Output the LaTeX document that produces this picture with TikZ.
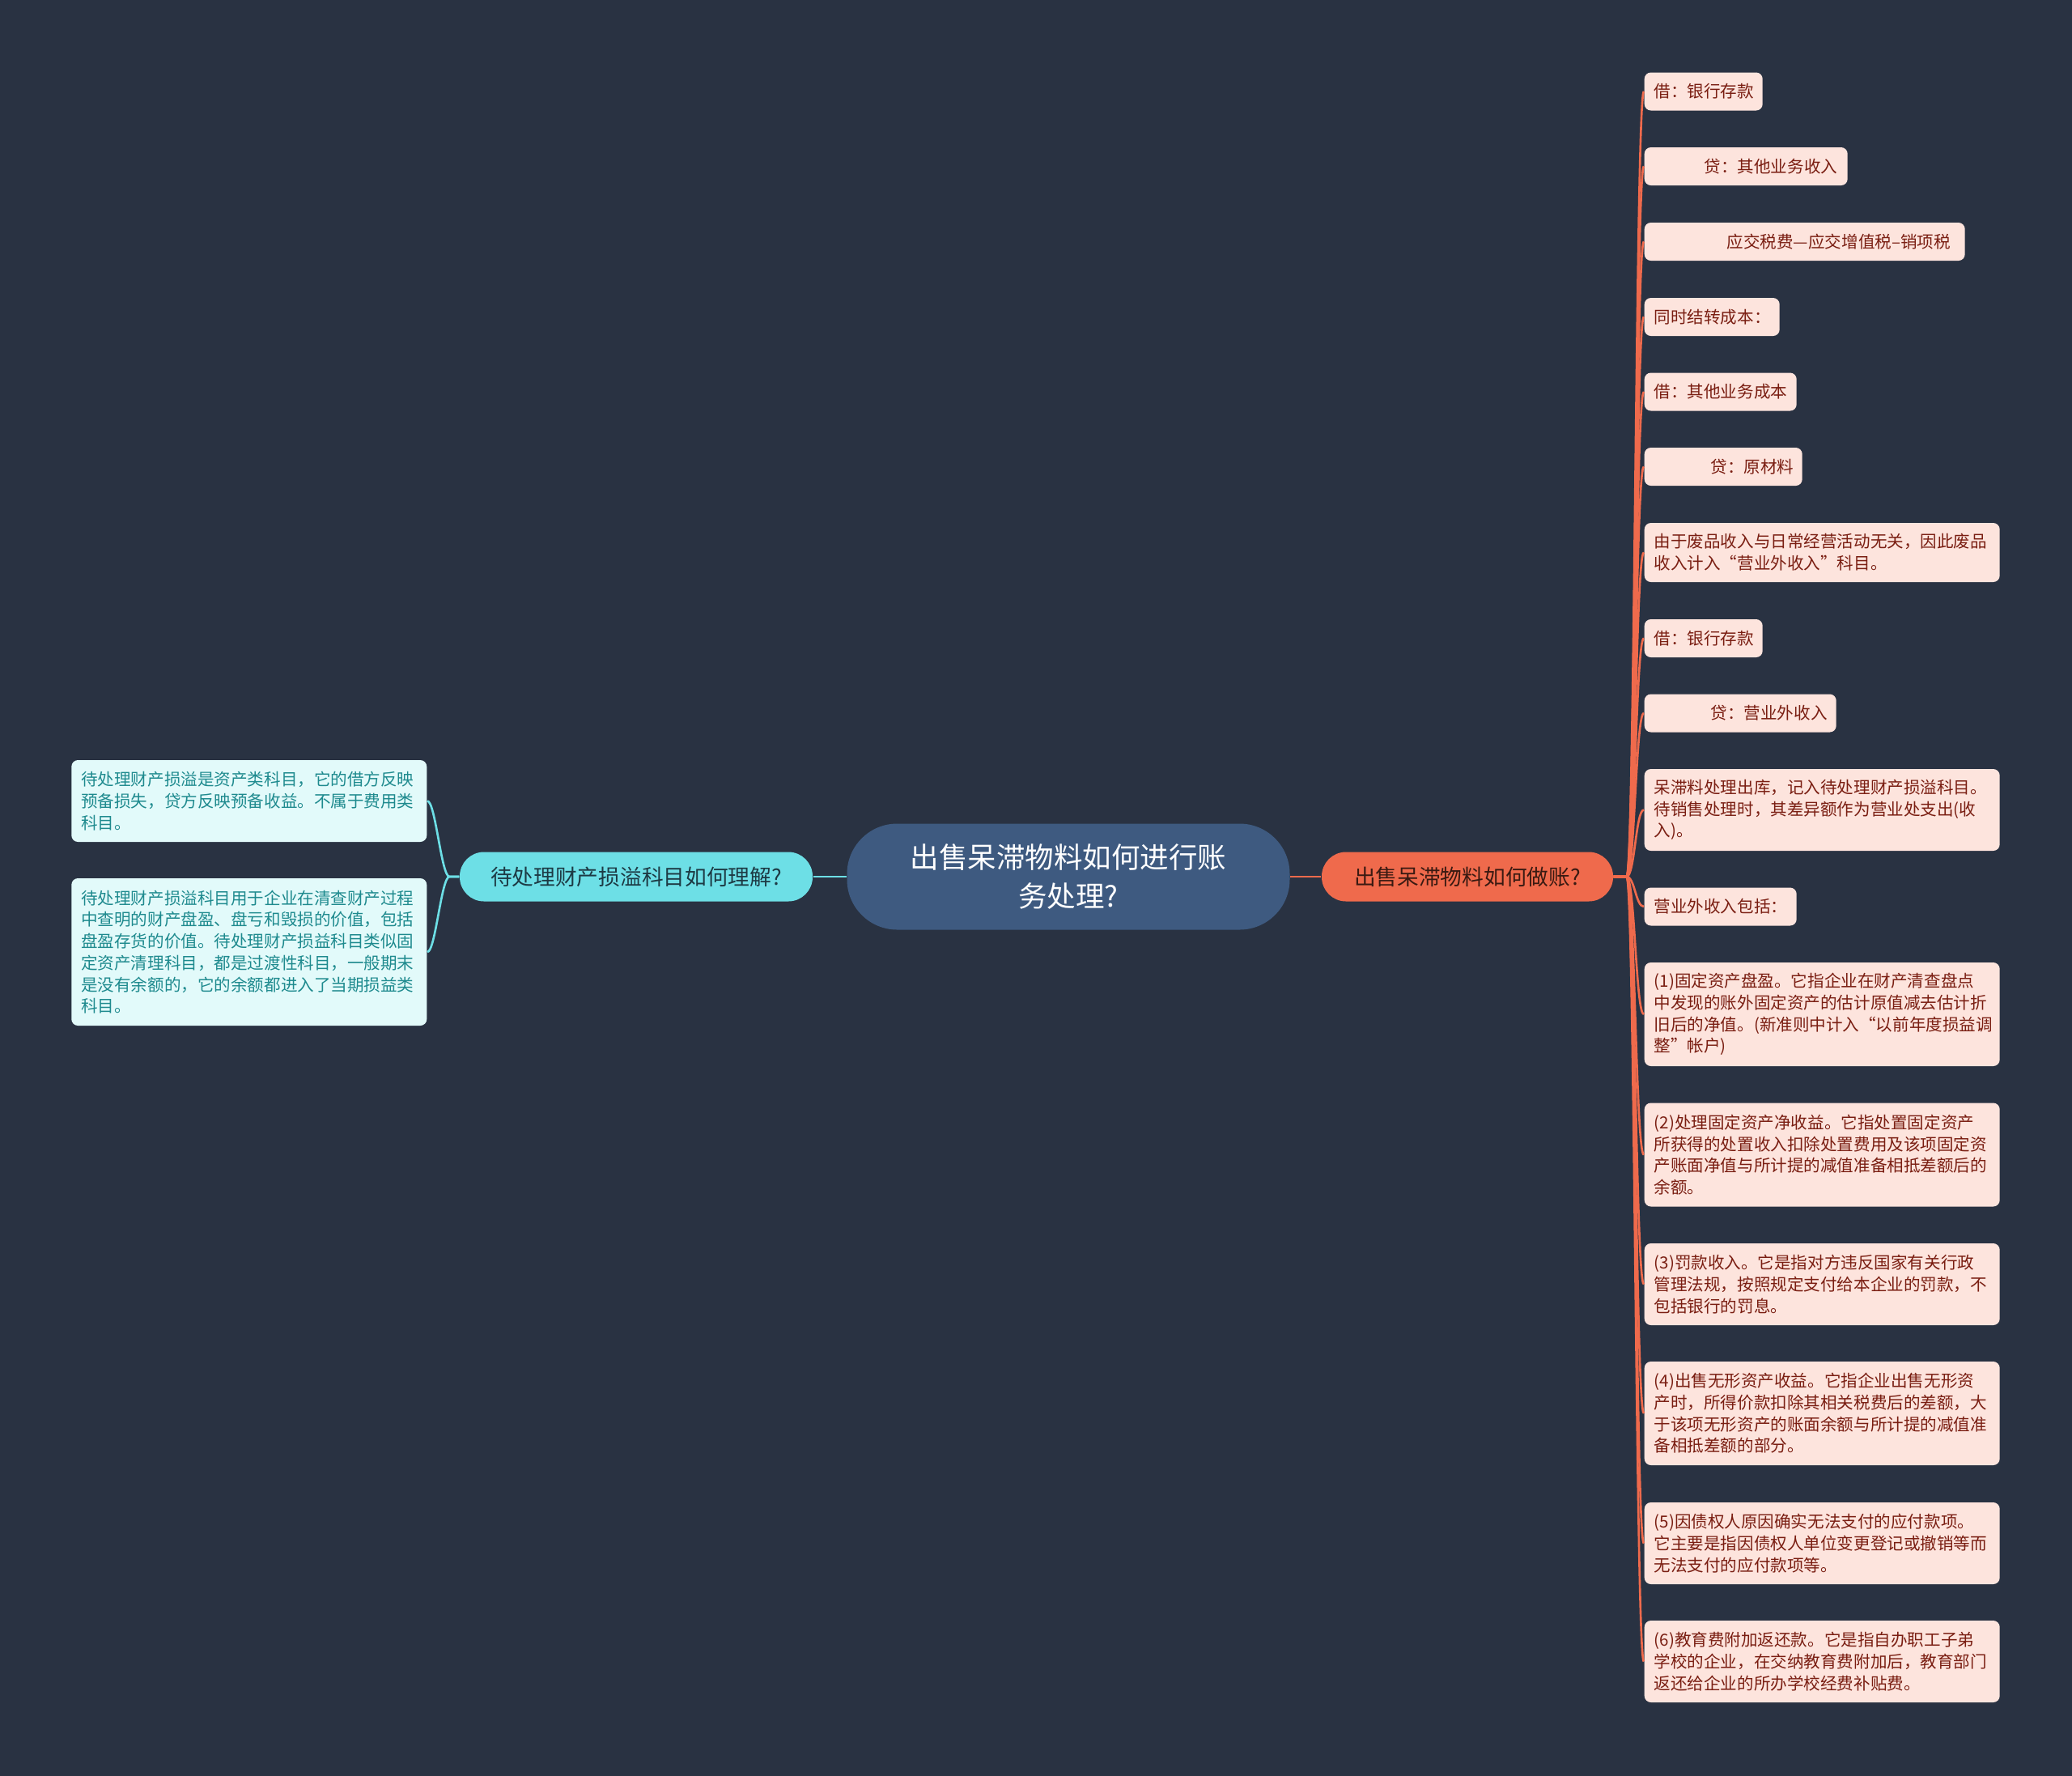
\documentclass[tikz,border=0pt]{standalone}
\usepackage{fontspec}
\setmainfont{Noto Sans CJK SC}
\usepackage{tikz}
\definecolor{bgc}{HTML}{293242}
\definecolor{rootc}{HTML}{3E5A80}
\definecolor{rbranchc}{HTML}{EF6A4C}
\definecolor{lbranchc}{HTML}{6DDFE6}
\definecolor{rleafc}{HTML}{FDE4DD}
\definecolor{lleafc}{HTML}{E2FAFA}
\definecolor{rtextc}{HTML}{7A1E12}
\definecolor{ltextc}{HTML}{1E8A8E}
\definecolor{rbtextc}{HTML}{3A1A12}
\definecolor{lbtextc}{HTML}{1D3A44}
\newcommand{\leaffont}{\fontsize{5.85}{7.6}\selectfont}
\tikzstyle{root}=[rectangle, rounded corners=0.62cm, fill=rootc, text=white, minimum width=5.47cm, minimum height=1.31cm, inner sep=0pt, align=center, font=\fontsize{10.1}{13.4}\selectfont]
\tikzstyle{branch}=[rectangle, rounded corners=0.3cm, minimum height=0.61cm, inner sep=0pt, font=\fontsize{7.6}{9}\selectfont]
\tikzstyle{rleaf}=[rectangle, rounded corners=0.08cm, fill=rleafc, text=rtextc, anchor=west, inner xsep=0.12cm, inner ysep=0pt, align=left, font=\leaffont]
\tikzstyle{lleaf}=[rectangle, rounded corners=0.08cm, fill=lleafc, text=ltextc, anchor=east, inner xsep=0.12cm, inner ysep=0pt, align=left, font=\leaffont]
\tikzstyle{redge}=[line width=0.75pt, draw=rbranchc]
\tikzstyle{ledge}=[line width=0.75pt, draw=lbranchc]

\begin{document}
\begin{tikzpicture}

					\useasboundingbox (0,0) rectangle (25.6,-21.93);
					\fill[bgc] (-0.1,0.1) rectangle (25.7,-22.03);

					\node[root] (c0) at (13.2,-10.83) {出售呆滞物料如何进行账\\务处理?};
					\node[branch, fill=rbranchc, text=rbtextc, minimum width=3.6cm] (b1) at (18.13,-10.83) {出售呆滞物料如何做账?};
					\node[branch, fill=lbranchc, text=lbtextc, minimum width=4.36cm] (b2) at (7.86,-10.83) {待处理财产损溢科目如何理解?};

					\node[rleaf, text width=1.22cm, minimum height=0.47cm] (r1) at (20.31,-1.13) {借：银行存款};
					\node[rleaf, text width=2.27cm, minimum height=0.47cm] (r2) at (20.31,-2.055) {\hspace*{0.62cm}贷：其他业务收入};
					\node[rleaf, text width=3.72cm, minimum height=0.47cm] (r3) at (20.31,-2.985) {\hspace*{0.9cm}应交税费—应交增值税–销项税};
					\node[rleaf, text width=1.43cm, minimum height=0.47cm] (r4) at (20.31,-3.915) {同时结转成本：};
					\node[rleaf, text width=1.64cm, minimum height=0.47cm] (r5) at (20.31,-4.84) {借：其他业务成本};
					\node[rleaf, text width=1.71cm, minimum height=0.47cm] (r6) at (20.31,-5.765) {\hspace*{0.7cm}贷：原材料};
					\node[rleaf, text width=4.15cm, minimum height=0.73cm] (r7) at (20.31,-6.825) {由于废品收入与日常经营活动无关，因此废品\\收入计入“营业外收入”科目。};
					\node[rleaf, text width=1.22cm, minimum height=0.47cm] (r8) at (20.31,-7.885) {借：银行存款};
					\node[rleaf, text width=2.13cm, minimum height=0.47cm] (r9) at (20.31,-8.81) {\hspace*{0.7cm}贷：营业外收入};
					\node[rleaf, text width=4.15cm, minimum height=1.01cm] (r10) at (20.31,-10.005) {呆滞料处理出库，记入待处理财产损溢科目。\\待销售处理时，其差异额作为营业处支出(收\\入)。};
					\node[rleaf, text width=1.64cm, minimum height=0.47cm] (r11) at (20.31,-11.2) {营业外收入包括：};
					\node[rleaf, text width=4.15cm, minimum height=1.28cm] (r12) at (20.31,-12.53) {(1)固定资产盘盈。它指企业在财产清查盘点\\中发现的账外固定资产的估计原值减去估计折\\旧后的净值。(新准则中计入“以前年度损益调\\整”帐户)};
					\node[rleaf, text width=4.15cm, minimum height=1.28cm] (r13) at (20.31,-14.265) {(2)处理固定资产净收益。它指处置固定资产\\所获得的处置收入扣除处置费用及该项固定资\\产账面净值与所计提的减值准备相抵差额后的\\余额。};
					\node[rleaf, text width=4.15cm, minimum height=1.01cm] (r14) at (20.31,-15.865) {(3)罚款收入。它是指对方违反国家有关行政\\管理法规，按照规定支付给本企业的罚款，不\\包括银行的罚息。};
					\node[rleaf, text width=4.15cm, minimum height=1.28cm] (r15) at (20.31,-17.46) {(4)出售无形资产收益。它指企业出售无形资\\产时，所得价款扣除其相关税费后的差额，大\\于该项无形资产的账面余额与所计提的减值准\\备相抵差额的部分。};
					\node[rleaf, text width=4.15cm, minimum height=1.01cm] (r16) at (20.31,-19.065) {(5)因债权人原因确实无法支付的应付款项。\\它主要是指因债权人单位变更登记或撤销等而\\无法支付的应付款项等。};
					\node[rleaf, text width=4.15cm, minimum height=1.01cm] (r17) at (20.31,-20.525) {(6)教育费附加返还款。它是指自办职工子弟\\学校的企业，在交纳教育费附加后，教育部门\\返还给企业的所办学校经费补贴费。};

					\node[lleaf, text width=4.15cm, minimum height=1.01cm] (l1) at (5.28,-9.895) {待处理财产损溢是资产类科目，它的借方反映\\预备损失，贷方反映预备收益。不属于费用类\\科目。};
					\node[lleaf, text width=4.15cm, minimum height=1.82cm] (l2) at (5.28,-11.76) {待处理财产损溢科目用于企业在清查财产过程\\中查明的财产盘盈、盘亏和毁损的价值，包括\\盘盈存货的价值。待处理财产损益科目类似固\\定资产清理科目，都是过渡性科目，一般期末\\是没有余额的，它的余额都进入了当期损益类\\科目。};

					\draw[redge] (c0.east) -- (b1.west);
					\draw[ledge] (c0.west) -- (b2.east);

					\draw[redge] (b1.east) -- ++(0.16,0) .. controls +(0.1,0) and +(-0.1,0) .. (r1.west);
					\draw[redge] (b1.east) -- ++(0.16,0) .. controls +(0.1,0) and +(-0.1,0) .. (r2.west);
					\draw[redge] (b1.east) -- ++(0.16,0) .. controls +(0.1,0) and +(-0.1,0) .. (r3.west);
					\draw[redge] (b1.east) -- ++(0.16,0) .. controls +(0.1,0) and +(-0.1,0) .. (r4.west);
					\draw[redge] (b1.east) -- ++(0.16,0) .. controls +(0.1,0) and +(-0.1,0) .. (r5.west);
					\draw[redge] (b1.east) -- ++(0.16,0) .. controls +(0.1,0) and +(-0.1,0) .. (r6.west);
					\draw[redge] (b1.east) -- ++(0.16,0) .. controls +(0.1,0) and +(-0.1,0) .. (r7.west);
					\draw[redge] (b1.east) -- ++(0.16,0) .. controls +(0.1,0) and +(-0.1,0) .. (r8.west);
					\draw[redge] (b1.east) -- ++(0.16,0) .. controls +(0.1,0) and +(-0.1,0) .. (r9.west);
					\draw[redge] (b1.east) -- ++(0.16,0) .. controls +(0.1,0) and +(-0.1,0) .. (r10.west);
					\draw[redge] (b1.east) -- ++(0.16,0) .. controls +(0.1,0) and +(-0.1,0) .. (r11.west);
					\draw[redge] (b1.east) -- ++(0.16,0) .. controls +(0.1,0) and +(-0.1,0) .. (r12.west);
					\draw[redge] (b1.east) -- ++(0.16,0) .. controls +(0.1,0) and +(-0.1,0) .. (r13.west);
					\draw[redge] (b1.east) -- ++(0.16,0) .. controls +(0.1,0) and +(-0.1,0) .. (r14.west);
					\draw[redge] (b1.east) -- ++(0.16,0) .. controls +(0.1,0) and +(-0.1,0) .. (r15.west);
					\draw[redge] (b1.east) -- ++(0.16,0) .. controls +(0.1,0) and +(-0.1,0) .. (r16.west);
					\draw[redge] (b1.east) -- ++(0.16,0) .. controls +(0.1,0) and +(-0.1,0) .. (r17.west);

					\draw[ledge] (b2.west) -- ++(-0.12,0) .. controls +(-0.1,0) and +(0.1,0) .. (l1.east);
					\draw[ledge] (b2.west) -- ++(-0.12,0) .. controls +(-0.1,0) and +(0.1,0) .. (l2.east);

\end{tikzpicture}
\end{document}
